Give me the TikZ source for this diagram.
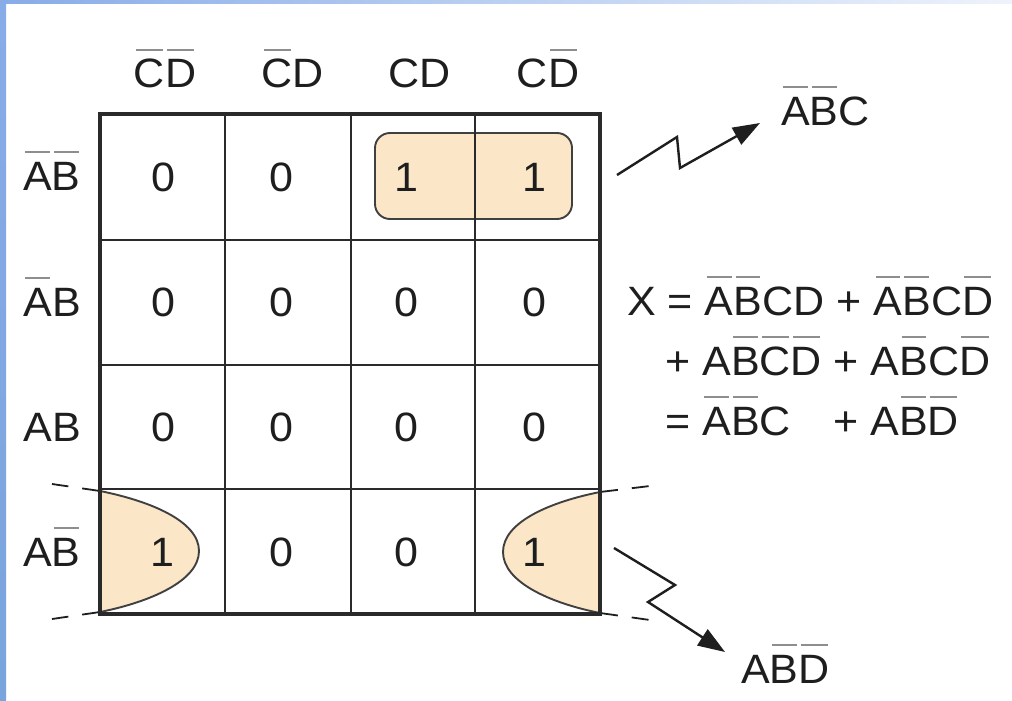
\documentclass[tikz,border=0pt]{standalone}
\usepackage{fontspec}
\setmainfont{Liberation Sans}[FakeStretch=1.05]
\usetikzlibrary{arrows.meta}

\definecolor{inkc}{HTML}{1E1E1E}
\definecolor{barc}{HTML}{8E8E8E}
\definecolor{loopfill}{HTML}{FBE6C8}
\definecolor{gridc}{HTML}{2A2A2A}
\definecolor{blueA}{HTML}{88ACE8}
\definecolor{blueB}{HTML}{79A4DC}
\definecolor{blueC}{HTML}{EEF3FB}

% complemented variable: a short grey bar over one letter
\newcommand{\negbar}[1]{\leavevmode\setbox0\hbox{#1}%
  \rlap{\hbox to\wd0{\hss\textcolor{barc}{\rule[0.9em]{\dimexpr\wd0-4pt\relax}{2.4pt}}\hss}}\box0\relax}

\begin{document}
\begin{tikzpicture}[x=1pt,y=-1pt,
  txt/.style={inner sep=0pt, anchor=base, text=inkc, font=\fontsize{41}{49}\selectfont},
  eqn/.style={txt, anchor=base west},
  cellgrid/.style={draw=gridc, line width=2.8pt},
  frameline/.style={draw=gridc, line width=3.4pt},
  grouploop/.style={fill=loopfill, draw=inkc!85, line width=1.9pt},
  tail/.style={draw=inkc, line width=1.8pt, dash pattern=on 18pt off 14pt on 17pt off 200pt},
  bolt/.style={draw=inkc, line width=2.4pt, line join=miter, -{Triangle[length=27pt,width=19pt]}}]

% page and blue frame strips
\useasboundingbox (0,0) rectangle (1012,701);
\fill[white] (0,0) rectangle (1012,701);
\shade[top color=blueA, bottom color=blueB] (0,0) rectangle (6,701);
\shade[left color=blueA, right color=blueC] (0,0) rectangle (1012,4);

% groupings of ones
\path[grouploop, rounded corners=15pt] (375,133) rectangle (572,219);
\path[fill=loopfill] (100,491) .. controls (150,501) and (199,521) .. (199,551)
  .. controls (199,581) and (150,602) .. (100,612) -- cycle;
\draw[grouploop, fill=none] (100,491) .. controls (150,501) and (199,521) .. (199,551)
  .. controls (199,581) and (150,602) .. (100,612);
\path[fill=loopfill] (600,492) .. controls (550,502) and (503,522) .. (503,552)
  .. controls (503,582) and (550,603) .. (600,613) -- cycle;
\draw[grouploop, fill=none] (600,492) .. controls (550,502) and (503,522) .. (503,552)
  .. controls (503,582) and (550,603) .. (600,613);

% wrap-around continuations
\draw[tail] (100,491) -- (52,484);
\draw[tail] (100,612) -- (52,619);
\draw[tail] (600,492) -- (650,486);
\draw[tail] (600,613) -- (650,620);

% map grid
\draw[cellgrid] (225,114) -- (225,614);
\draw[cellgrid] (351,114) -- (351,614);
\draw[cellgrid] (475,114) -- (475,614);
\draw[cellgrid] (100,240) -- (600,240);
\draw[cellgrid] (100,365) -- (600,365);
\draw[cellgrid] (100,489) -- (600,489);
\draw[frameline] (100,114) rectangle (600,614);

% column headings
\node[txt] (c1) at (165,88) {\negbar{C}\negbar{D}};
\node[txt] (c2) at (293,88) {\negbar{C}D};
\node[txt] (c3) at (420,88) {CD};
\node[txt] (c4) at (548,88) {C\negbar{D}};

% row headings
\node[txt] (r1) at (52,190) {\negbar{A}\negbar{B}};
\node[txt] (r2) at (52,316) {\negbar{A}B};
\node[txt] (r3) at (52,441) {AB};
\node[txt] (r4) at (52,566) {A\negbar{B}};

% cell entries
\node[txt] (m11) at (163,191) {0};
\node[txt] (m12) at (281,191) {0};
\node[txt] (m13) at (406,191) {1};
\node[txt] (m14) at (534,191) {1};
\node[txt] (m21) at (163,316) {0};
\node[txt] (m22) at (281,316) {0};
\node[txt] (m23) at (406,316) {0};
\node[txt] (m24) at (534,316) {0};
\node[txt] (m31) at (163,441) {0};
\node[txt] (m32) at (281,441) {0};
\node[txt] (m33) at (406,441) {0};
\node[txt] (m34) at (534,441) {0};
\node[txt] (m41) at (162,566) {1};
\node[txt] (m42) at (281,566) {0};
\node[txt] (m43) at (406,566) {0};
\node[txt] (m44) at (534,566) {1};

% simplified terms with bolt arrows
\node[eqn] (t1) at (781,125) {\negbar{A}\negbar{B}C};
\node[eqn] (t2) at (741,683) {A\negbar{B}\negbar{D}};
\coordinate (a0) at (617,175);
\coordinate (a1) at (677,137);
\coordinate (a2) at (680,168);
\coordinate (a3) at (760,123);
\coordinate (b0) at (614,548);
\coordinate (b1) at (675,585);
\coordinate (b2) at (648,602);
\coordinate (b3) at (725,652);
\draw[bolt] (a0) -- (a1) -- (a2) -- (a3);
\draw[bolt] (b0) -- (b1) -- (b2) -- (b3);

% expression
\node[eqn] (e1) at (627,315) {X = \negbar{A}\negbar{B}CD + \negbar{A}\negbar{B}C\negbar{D}};
\node[eqn] (e2) at (665,375) {+ A\negbar{B}\negbar{C}\negbar{D} + A\negbar{B}C\negbar{D}};
\node[eqn] (e3) at (665,435) {= \negbar{A}\negbar{B}C};
\node[eqn] (e4) at (833,435) {+ A\negbar{B}\negbar{D}};
\end{tikzpicture}
\end{document}
